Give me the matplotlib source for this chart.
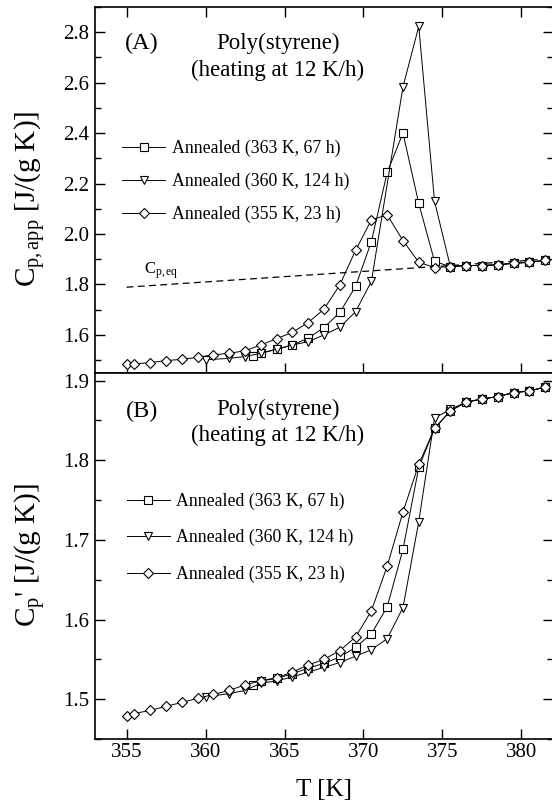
import matplotlib
matplotlib.use("Agg")
import matplotlib.pyplot as plt
from matplotlib.ticker import MultipleLocator
import numpy as np

plt.rcParams['font.family'] = ['Liberation Serif', 'DejaVu Serif']
plt.rcParams['mathtext.fontset'] = 'custom'
plt.rcParams['mathtext.rm'] = 'Liberation Serif'
plt.rcParams['mathtext.it'] = 'Liberation Serif:italic'
plt.rcParams['mathtext.bf'] = 'Liberation Serif:bold'

# ---------------- data ----------------
labels = ["Annealed (363 K, 67 h)", "Annealed (360 K, 124 h)", "Annealed (355 K, 23 h)"]

# temperatures (K)
T_sq = [363, 363.5, 364.5, 365.5, 366.5, 367.5, 368.5, 369.5, 370.5, 371.5, 372.5,
        373.5, 374.5, 375.5, 376.5, 377.5, 378.5, 379.5, 380.5, 381.5]
T_tri_A = [360, 361.5, 362.5, 363.5, 364.5, 365.5, 366.5, 367.5, 368.5, 369.5, 370.5,
           372.5, 373.5, 374.5, 375.5, 376.5, 377.5, 378.5, 379.5, 380.5, 381.5]
T_tri_B = [360, 361.5, 362.5, 363.5, 364.5, 365.5, 366.5, 367.5, 368.5, 369.5, 370.5,
           371.5, 372.5, 373.5, 374.5, 375.5, 376.5, 377.5, 378.5, 379.5, 380.5, 381.5]
T_dia = [355, 355.5, 356.5, 357.5, 358.5, 359.5, 360.5, 361.5, 362.5, 363.5, 364.5,
         365.5, 366.5, 367.5, 368.5, 369.5, 370.5, 371.5, 372.5, 373.5, 374.5, 375.5,
         376.5, 377.5, 378.5, 379.5, 380.5, 381.5]

# Panel A: apparent heat capacity Cp,app [J/(g K)]
cpapp_sq = [1.518, 1.527, 1.543, 1.560, 1.587, 1.629, 1.689, 1.792, 1.970, 2.244, 2.400,
            2.121, 1.891, 1.871, 1.875, 1.875, 1.878, 1.884, 1.888, 1.895]
cpapp_tri = [1.501, 1.507, 1.514, 1.527, 1.543, 1.560, 1.573, 1.600, 1.630, 1.692, 1.812,
             2.583, 2.823, 2.129, 1.871, 1.875, 1.875, 1.878, 1.884, 1.888, 1.895]
cpapp_dia = [1.484, 1.485, 1.490, 1.498, 1.503, 1.511, 1.521, 1.527, 1.537, 1.560, 1.585,
             1.610, 1.649, 1.702, 1.798, 1.935, 2.056, 2.076, 1.974, 1.888, 1.867, 1.871,
             1.875, 1.875, 1.878, 1.884, 1.888, 1.895]

# equilibrium Cp line
cpeq_T = [355, 382]
cpeq_vals = [1.789, 1.902]

# Panel B: storage heat capacity Cp' [J/(g K)]
cpp_sq = [1.518, 1.523, 1.526, 1.532, 1.539, 1.545, 1.553, 1.565, 1.582, 1.616, 1.688,
          1.791, 1.840, 1.862, 1.873, 1.877, 1.880, 1.885, 1.887, 1.892]
cpp_tri = [1.503, 1.507, 1.511, 1.520, 1.523, 1.528, 1.534, 1.540, 1.546, 1.554, 1.562,
           1.576, 1.615, 1.723, 1.853, 1.864, 1.873, 1.877, 1.880, 1.885, 1.887, 1.892]
cpp_dia = [1.479, 1.482, 1.486, 1.491, 1.496, 1.501, 1.506, 1.511, 1.518, 1.523, 1.527,
           1.534, 1.543, 1.550, 1.561, 1.578, 1.611, 1.667, 1.735, 1.795, 1.840, 1.862,
           1.873, 1.877, 1.880, 1.885, 1.887, 1.892]

xticks = [355, 360, 365, 370, 375, 380]

# ---------------- figure ----------------
W, H = 552, 801
fig = plt.figure(figsize=(W / 100, H / 100), dpi=100)

def rect(l, t, r, b):
    return [l / W, 1 - b / H, (r - l) / W, (b - t) / H]

axA = fig.add_axes(rect(95, 7, 553, 372.7))
axB = fig.add_axes(rect(95, 372.7, 553, 739))

lw = 0.7
mk = dict(color='black', lw=lw, mfc='white', mec='black', mew=0.8)
styles = [dict(marker='s', ms=5.3), dict(marker='v', ms=5.8), dict(marker='D', ms=4.8)]

# Panel A
axA.plot(cpeq_T, cpeq_vals, color='black', lw=0.9, ls=(0, (5.5, 3.5)), zorder=1)
hA = []
for T, v, st, lab in zip([T_sq, T_tri_A, T_dia], [cpapp_sq, cpapp_tri, cpapp_dia], styles, labels):
    h, = axA.plot(T, v, label=lab, **mk, **st)
    hA.append(h)

# Panel B
hB = []
for T, v, st, lab in zip([T_sq, T_tri_B, T_dia], [cpp_sq, cpp_tri, cpp_dia], styles, labels):
    h, = axB.plot(T, v, label=lab, **mk, **st)
    hB.append(h)

for ax in (axA, axB):
    ax.set_xlim(353, 382)
    ax.set_xticks(xticks)
    for s in ax.spines.values():
        s.set_linewidth(1.2)
    ax.tick_params(axis='both', which='both', direction='in', labelsize=15,
                   width=1.0, color='black')
    ax.tick_params(axis='both', which='major', length=7)
    ax.tick_params(axis='both', which='minor', length=4.5)
    ax.tick_params(axis='y', which='both', left=True, right=True, pad=4)

axA.set_ylim(1.45, 2.9)
axA.yaxis.set_major_locator(MultipleLocator(0.2))
axA.yaxis.set_minor_locator(MultipleLocator(0.1))
axA.yaxis.set_major_formatter(matplotlib.ticker.FormatStrFormatter('%.1f'))
axA.tick_params(axis='x', which='both', top=True, bottom=True, labelbottom=False)

axB.set_ylim(1.45, 1.91)
axB.yaxis.set_major_locator(MultipleLocator(0.1))
axB.yaxis.set_minor_locator(MultipleLocator(0.05))
axB.yaxis.set_major_formatter(matplotlib.ticker.FormatStrFormatter('%.1f'))
axB.tick_params(axis='x', which='both', top=False, bottom=True, pad=3)
axB.set_xlabel('T [K]', fontsize=18, labelpad=12)

# panel texts
axA.text(0.1026, 0.9016, '(A)', transform=axA.transAxes, ha='center', va='center', fontsize=17.5)
axA.text(0.3996, 0.9016, 'Poly(styrene)', transform=axA.transAxes, ha='center', va='center', fontsize=16.5)
axA.text(0.3996, 0.8277, '(heating at 12 K/h)', transform=axA.transAxes, ha='center', va='center', fontsize=16.5)
axA.text(0.144, 0.279, r'$\mathregular{C_{p,eq}}$', transform=axA.transAxes, ha='center', va='center', fontsize=12)

axB.text(0.1026, 0.894, '(B)', transform=axB.transAxes, ha='center', va='center', fontsize=17.5)
axB.text(0.3996, 0.8985, 'Poly(styrene)', transform=axB.transAxes, ha='center', va='center', fontsize=16.5)
axB.text(0.3996, 0.83, '(heating at 12 K/h)', transform=axB.transAxes, ha='center', va='center', fontsize=16.5)

# legends
axA.legend(handles=hA, loc='upper left', bbox_to_anchor=(0.059, 0.636), frameon=False,
           fontsize=12.8, handlelength=2.42, handletextpad=0.38, labelspacing=0.87,
           borderpad=0, borderaxespad=0, numpoints=1)
axB.legend(handles=hB, loc='upper left', bbox_to_anchor=(0.069, 0.673), frameon=False,
           fontsize=12.8, handlelength=2.42, handletextpad=0.38, labelspacing=1.09,
           borderpad=0, borderaxespad=0, numpoints=1)

# y labels
fig.text(31 / W, 1 - 199 / H, r'$\mathregular{C_{p,app}}$ [J/(g K)]', rotation=90,
         ha='center', va='center', fontsize=21)
fig.text(31 / W, 1 - 555 / H, r"$\mathregular{C_p}$' [J/(g K)]", rotation=90,
         ha='center', va='center', fontsize=21)

fig.savefig('out.png', dpi=100)
